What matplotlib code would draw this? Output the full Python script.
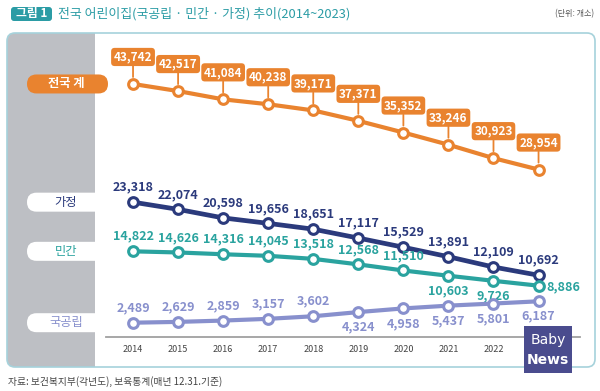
import numpy as np
import matplotlib.pyplot as plt
from matplotlib.patches import FancyBboxPatch, Rectangle

plt.rcParams['font.family'] = ['Noto Sans CJK KR', 'DejaVu Sans']

# data (개소)
years = [2014, 2015, 2016, 2017, 2018, 2019, 2020, 2021, 2022, 2023]
total = [43742, 42517, 41084, 40238, 39171, 37371, 35352, 33246, 30923, 28954]
home = [23318, 22074, 20598, 19656, 18651, 17117, 15529, 13891, 12109, 10692]
private = [14822, 14626, 14316, 14045, 13518, 12568, 11510, 10603, 9726, 8886]
public = [2489, 2629, 2859, 3157, 3602, 4324, 4958, 5437, 5801, 6187]
names = ['전국 계', '가정', '민간', '국공립']

title = '전국 어린이집(국공립 · 민간 · 가정) 추이(2014~2023)'
unit = '(단위: 개소)'
source = '자료: 보건복지부(각년도), 보육통계(매년 12.31.기준)'

ORANGE = '#e9832f'
NAVY = '#2b3a7c'
TEAL = '#2aa39f'
LAV = '#8890cd'
TTEAL = '#2b9ca5'

W, H = 600, 391
fig = plt.figure(figsize=(W / 100, H / 100), dpi=100)
bg = fig.add_axes([0, 0, 1, 1])
bg.set_xlim(0, W)
bg.set_ylim(H, 0)
bg.axis('off')

# panel
panel = FancyBboxPatch((7, 33), 588, 334, boxstyle='round,pad=0,rounding_size=8',
                       fc='white', ec='none')
bg.add_patch(panel)
gray = Rectangle((7, 33), 88, 334, fc='#bdbfc4', ec='none')
bg.add_patch(gray)
gray.set_clip_path(panel)
bg.add_patch(FancyBboxPatch((7, 33), 588, 334, boxstyle='round,pad=0,rounding_size=8',
                            fc='none', ec='#a6d2db', lw=1.2))

# title
bg.add_patch(FancyBboxPatch((11, 7), 41, 14, boxstyle='round,pad=0,rounding_size=3',
                            fc=TTEAL, ec='none'))
bg.text(31.5, 14, '그림 1', color='white', fontsize=8.5, fontweight='bold',
        ha='center', va='center')
bg.text(58, 14, title, color=TTEAL, fontsize=9.3, fontweight='medium',
        ha='left', va='center')
bg.text(594, 14, unit, color='#555555', fontsize=5.8, ha='right', va='center')
bg.text(8, 382, source, color='#444444', fontsize=7, ha='left', va='center')

# data axes
ax = fig.add_axes([106 / W, (H - 337) / H, 474 / W, 297 / H])
ax.patch.set_alpha(0)
ax.set_xlim(2013.40, 2023.92)
ax.set_ylim(18, 51340)
for s in ['top', 'right', 'left']:
    ax.spines[s].set_visible(False)
ax.spines['bottom'].set_color('#a0a0a0')
ax.spines['bottom'].set_linewidth(1.3)
ax.set_yticks([])
ax.set_xticks(years)
ax.set_xticklabels([str(y) for y in years], fontsize=6.5, color='#444444')
ax.tick_params(axis='x', length=0, pad=6)

series = [total, home, private, public]
colors = [ORANGE, NAVY, TEAL, LAV]
widths = [3.0, 3.4, 3.0, 3.0]
place = [
    ['box'] * 10,
    ['up'] * 10,
    ['up'] * 7 + ['down', 'down', 'right'],
    ['up'] * 5 + ['down'] * 5,
]

for vals, col, lw, pl in zip(series, colors, widths, place):
    ax.plot(years, vals, color=col, lw=lw, marker='o', ms=7, mfc='white',
            mec=col, mew=2.2, zorder=3, clip_on=False)
    for x, v, p in zip(years, vals, pl):
        lab = f'{v:,}'
        if p == 'box':
            ax.annotate(lab, (x, v), xytext=(0, 27), textcoords='offset pixels',
                        ha='center', va='center', color='white', fontsize=8.5,
                        fontweight='bold',
                        bbox=dict(boxstyle='round,pad=0.22,rounding_size=0.3',
                                  fc=col, ec='none'),
                        arrowprops=dict(arrowstyle='-', color=col, lw=1.3,
                                        shrinkA=0, shrinkB=5))
        elif p == 'up':
            ax.annotate(lab, (x, v), xytext=(0, 15), textcoords='offset pixels',
                        ha='center', va='center', color=col, fontsize=9,
                        fontweight='bold')
        elif p == 'down':
            ax.annotate(lab, (x, v), xytext=(0, -15), textcoords='offset pixels',
                        ha='center', va='center', color=col, fontsize=9,
                        fontweight='bold')
        else:
            ax.annotate(lab, (x, v), xytext=(8, -1), textcoords='offset pixels',
                        ha='left', va='center', color=col, fontsize=9,
                        fontweight='bold')

# series pills on the gray band, at each series' first value
for name, vals, col in zip(names, series, colors):
    ypx = H - ax.transData.transform((years[0], vals[0]))[1]
    filled = col == ORANGE
    bg.add_patch(FancyBboxPatch((27, ypx - 9.5), 81, 19,
                                boxstyle='round,pad=0,rounding_size=9.5',
                                fc=col if filled else 'white', ec='none'))
    bg.text(66, ypx, name, color='white' if filled else col, fontsize=8.8,
            fontweight='bold' if filled else 'normal', ha='center', va='center')

# logo (covers the last year label, as in the source image)
ax.add_patch(Rectangle((524, 326), 48, 47, fc='#4a4c8e', ec='none',
                       transform=bg.transData, clip_on=False, zorder=10))
ax.text(548, 340, 'Baby', color='white', fontsize=10, ha='center', va='center',
        transform=bg.transData, zorder=11, family='DejaVu Sans')
ax.text(548, 360, 'News', color='white', fontsize=10, fontweight='bold',
        ha='center', va='center', transform=bg.transData, zorder=11,
        family='DejaVu Sans')

fig.savefig('out.png', dpi=100)
